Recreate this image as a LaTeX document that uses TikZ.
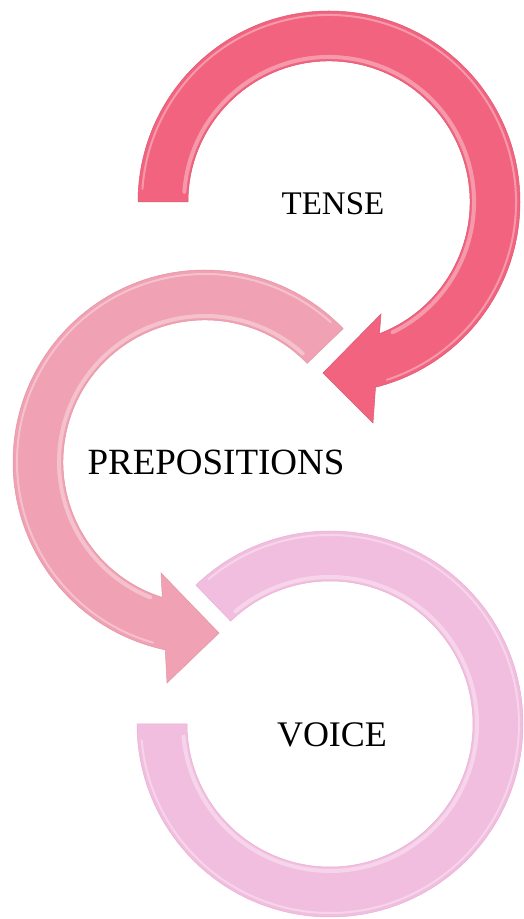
\documentclass[tikz,border=0pt]{standalone}
\usepackage{fontspec}
\setmainfont{Liberation Serif}
\usetikzlibrary{calc}
\definecolor{cA}{HTML}{F2637F}
\definecolor{cAd}{HTML}{E0566F}
\definecolor{cB}{HTML}{F0A1B3}
\definecolor{cBd}{HTML}{E494A6}
\definecolor{cC}{HTML}{F2BEE0}
\definecolor{cCd}{HTML}{E8B0D4}
\tikzset{
  band/.style={line width=0.5pt, line join=miter},
  hilite/.style={white, opacity=0.35, line cap=round},
  lbl/.style={inner sep=0pt, anchor=center, text=black}
}
\begin{document}
\begin{tikzpicture}[x=1pt,y=1pt]
\useasboundingbox (0,0) rectangle (523,919);
\fill[white] (0,0) rectangle (523,919);
% centres
\coordinate (C1) at (329,717);
\coordinate (C2) at (205,457);
\coordinate (C3) at (330,195);
% ---- circle 3 (VOICE), drawn first
\draw[band, fill=cC, draw=cCd]
  ($(C3)+(134:193)$) arc[start angle=134, end angle=-180, radius=193]
  -- ($(C3)+(180:143)$) arc[start angle=-180, end angle=134, radius=143] -- cycle;
\draw[hilite, line width=4pt] ($(C3)+(130:147)$) arc[start angle=130, end angle=-175, radius=147];
\draw[hilite, line width=2pt] ($(C3)+(130:189)$) arc[start angle=130, end angle=-175, radius=189];
% ---- circle 2 (PREPOSITIONS)
\draw[band, fill=cB, draw=cBd]
  ($(C2)+(44:192)$) arc[start angle=44, end angle=258.05, radius=192]
  -- ($(C2)+(-38,-221)$) -- ($(C2)+(14,-171)$) -- ($(C2)+(-44,-111)$)
  -- ($(C2)+(252.5:142)$) arc[start angle=252.5, end angle=44, radius=142] -- cycle;
\draw[hilite, line width=4pt] ($(C2)+(48:146)$) arc[start angle=48, end angle=248, radius=146];
\draw[hilite, line width=2pt] ($(C2)+(48:188)$) arc[start angle=48, end angle=254, radius=188];
% ---- circle 1 (TENSE)
\draw[band, fill=cA, draw=cAd]
  ($(C1)+(180:191)$) arc[start angle=180, end angle=-75.9, radius=191]
  -- ($(C1)+(44,-221)$) -- ($(C1)+(-6,-171)$) -- ($(C1)+(52,-112)$)
  -- ($(C1)+(-69:141)$) arc[start angle=-69, end angle=180, radius=141] -- cycle;
\draw[hilite, line width=4pt] ($(C1)+(-64:145)$) arc[start angle=-64, end angle=176, radius=145];
\draw[hilite, line width=2pt] ($(C1)+(-72:187)$) arc[start angle=-72, end angle=176, radius=187];
% ---- labels
\node[lbl] (tense) at (333,715) {\fontsize{33}{40}\selectfont TENSE};
\node[lbl] (prep) at (216,457) {\fontsize{37}{44}\selectfont PREPOSITIONS};
\node[lbl] (voice) at (332,184) {\fontsize{36}{43}\selectfont VOICE};
\end{tikzpicture}
\end{document}
